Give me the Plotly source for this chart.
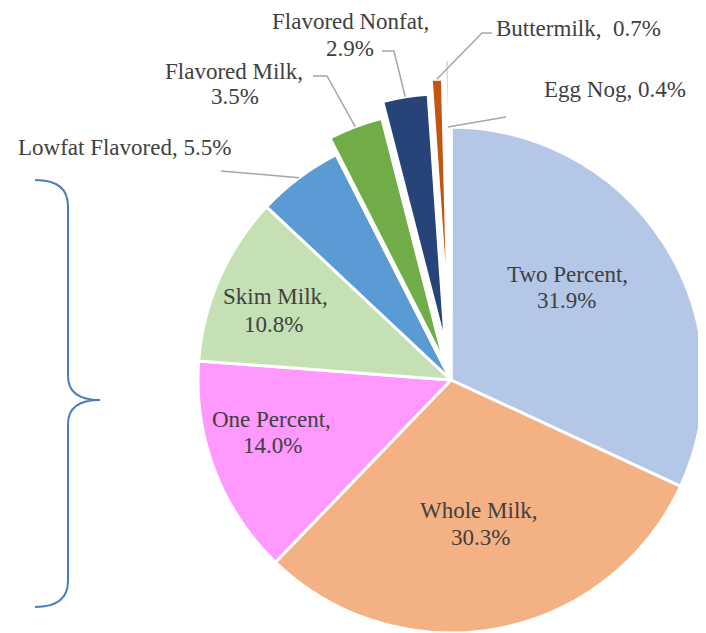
import math
import plotly.graph_objects as go

# ---------------- data ----------------
categories = ["Two Percent", "Whole Milk", "One Percent", "Skim Milk",
              "Lowfat Flavored", "Flavored Milk", "Flavored Nonfat",
              "Buttermilk", "Egg Nog"]
shares = [31.9, 30.3, 14.0, 10.8, 5.5, 3.5, 2.9, 0.7, 0.4]

# ---------------- styles / layout ----------------
colors = ["#b4c7e7", "#f4b183", "#ff99ff", "#c5e0b4", "#5b9bd5",
          "#70ad47", "#264478", "#c0560f", "#c8c8c8"]
pulls = [0, 0, 0, 0, 0, 0.07, 0.134, 0.19, 0.27]
OFF = 8                      # default page body margin
W, H = 706 - OFF, 633 - OFF  # figure size that fits the window
CX, CY, R = 451, 380, 253    # page pixel geometry of the pie
FONT = "Liberation Serif, Times New Roman, serif"
FS = 23
TXT = "#404040"
LEAD = "#a6a6a6"

# label placement (page pixel x-centre, baseline) for each line of each label
label_lines = {
    "Two Percent": [("{n},", 567, 282), ("{p}", 566, 308)],
    "Whole Milk": [("{n},", 479, 518), ("{p}", 480, 545)],
    "One Percent": [("{n},", 271, 427), ("{p}", 272, 453)],
    "Skim Milk": [("{n},", 275, 305), ("{p}", 273, 332)],
    "Lowfat Flavored": [("{n}, {p}", 124, 156)],
    "Flavored Milk": [("{n},", 234, 79), ("{p}", 235, 105)],
    "Flavored Nonfat": [("{n},", 350, 30), ("{p}", 350, 56)],
    "Buttermilk": [("{n},  {p}", 578, 36)],
    "Egg Nog": [("{n}, {p}", 615, 98)],
}
# leader line bends/ends (page pixel) after the slice anchor
leader_pts = {
    "Lowfat Flavored": [(221, 171)],
    "Flavored Milk": [(327, 76), (313, 76)],
    "Flavored Nonfat": [(394, 51), (382, 51)],
    "Buttermilk": [(482, 33), (492, 33)],
    "Egg Nog": [(506, 117)],
}
leader_radius = {"Egg Nog": 1.0}


def px(x):
    return (x - OFF) / W


def py(y):
    return 1 - (y - OFF) / H


total = sum(shares)
mids = []
cum = 0
for v in shares:
    mids.append(math.radians((cum + v / 2) / total * 360))
    cum += v


def clamp(v):
    return min(1.0, max(0.0, v))


def domain_for(p, ang):
    dx = p * R * math.sin(ang)
    dy = -p * R * math.cos(ang)
    return dict(x=[clamp(px(CX - R + dx)), clamp(px(CX + R + dx))],
                y=[clamp(py(CY + R + dy)), clamp(py(CY - R + dy))])


fig = go.Figure()
n = len(categories)
base_cols = [c if p == 0 else "rgba(0,0,0,0)" for c, p in zip(colors, pulls)]
fig.add_trace(go.Pie(
    labels=categories, values=shares, sort=False, direction="clockwise",
    rotation=0, textinfo="none", hoverinfo="label+percent", showlegend=False,
    marker=dict(colors=base_cols, line=dict(color="white", width=3)),
    domain=domain_for(0, 0)))

for i, p in enumerate(pulls):
    if p == 0:
        continue
    cols = ["rgba(0,0,0,0)"] * n
    cols[i] = colors[i]
    lcols = ["rgba(0,0,0,0)"] * n
    lcols[i] = "white"
    lw = [0] * n
    lw[i] = 5 if categories[i] == "Egg Nog" else 3
    fig.add_trace(go.Pie(
        labels=categories, values=shares, sort=False, direction="clockwise",
        rotation=0, textinfo="none", hoverinfo="skip", showlegend=False,
        marker=dict(colors=cols, line=dict(color=lcols, width=lw)),
        domain=domain_for(p, mids[i])))

annotations = []
for name, v in zip(categories, shares):
    pct = f"{v:.1f}%"
    for tmpl, x, base in label_lines[name]:
        annotations.append(dict(
            text=tmpl.format(n=name, p=pct), x=px(x), y=py(base - 8),
            xref="paper", yref="paper", xanchor="center", yanchor="middle",
            showarrow=False, borderpad=0,
            font=dict(family=FONT, size=FS, color=TXT)))

shapes = []
for i, name in enumerate(categories):
    if name not in leader_pts:
        continue
    rr = leader_radius.get(name, 1 + pulls[i]) * R
    ax = CX + rr * math.sin(mids[i])
    ay = CY - rr * math.cos(mids[i])
    pts = [(ax, ay)] + leader_pts[name]
    path = "M " + " L ".join(f"{px(x):.5f},{py(y):.5f}" for x, y in pts)
    shapes.append(dict(type="path", path=path, xref="paper", yref="paper",
                       line=dict(color=LEAD, width=1.5)))


# curly brace on the left
def P(x, y):
    return f"{px(x):.5f},{py(y):.5f}"


brace = (f"M {P(35,180)} Q {P(68,180)} {P(68,206)} L {P(68,376)} "
         f"Q {P(68,400)} {P(100,400)} Q {P(68,400)} {P(68,424)} "
         f"L {P(68,581)} Q {P(68,607)} {P(35,607)}")
shapes.append(dict(type="path", path=brace, xref="paper", yref="paper",
                   line=dict(color="#4a7ebb", width=2)))

fig.update_layout(
    width=W, height=H, margin=dict(l=0, r=0, t=0, b=0),
    paper_bgcolor="white", plot_bgcolor="white",
    annotations=annotations, shapes=shapes, showlegend=False)

fig.write_html("out.html")
